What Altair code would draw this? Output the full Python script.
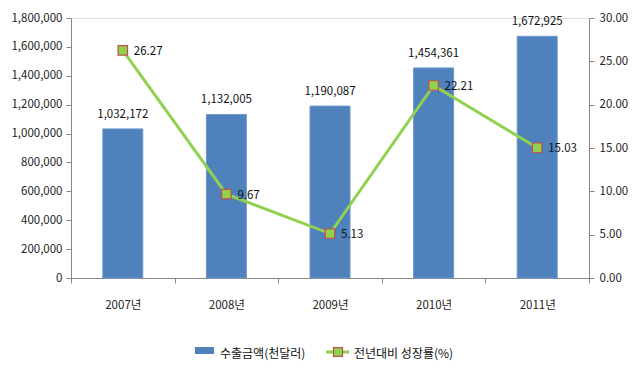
import altair as alt
import pandas as pd

years = ["2007년", "2008년", "2009년", "2010년", "2011년"]
exports = [1032172, 1132005, 1190087, 1454361, 1672925]
growth = [26.27, 9.67, 5.13, 22.21, 15.03]

bar_name = "수출금액(천달러)"
line_name = "전년대비 성장률(%)"

FONT = "Noto Sans CJK KR"
BLUE = "#4F81BD"
GREEN = "#92D050"
RED = "#C0504D"
AXIS_GRAY = "#868686"

df = pd.DataFrame({"year": years, "exports": exports, "growth": growth})
df["exp_label"] = [f"{v:,}" for v in exports]
df["gr_label"] = [f"{v:.2f}" for v in growth]

x = alt.X("year:N", sort=years, title=None,
          scale=alt.Scale(paddingInner=0.0, paddingOuter=0.0),
          axis=alt.Axis(labelAngle=0, tickBand="extent", labelPadding=16,
                        tickSize=5, domainColor=AXIS_GRAY, tickColor=AXIS_GRAY,
                        labelFont=FONT, labelFontSize=11.5, labelColor="#222"))

y_left = alt.Y("exports:Q", title=None,
               scale=alt.Scale(domain=[0, 1800000], nice=False),
               axis=alt.Axis(values=list(range(0, 1800001, 200000)), format=",.0f",
                             grid=False, tickSize=5, labelPadding=4,
                             domainColor=AXIS_GRAY, tickColor=AXIS_GRAY,
                             labelFont=FONT, labelFontSize=11.5, labelColor="#222"))

y_right = alt.Y("growth:Q", title=None,
                scale=alt.Scale(domain=[0, 30], nice=False),
                axis=alt.Axis(orient="right", values=[0, 5, 10, 15, 20, 25, 30], format=".2f",
                              grid=False, tickSize=5, labelPadding=5,
                              domainColor=AXIS_GRAY, tickColor=AXIS_GRAY,
                              labelFont=FONT, labelFontSize=11.5, labelColor="#222"))

base = alt.Chart(df)

bars = base.mark_bar(color=BLUE, size=40, stroke="#6F97C9", strokeWidth=1).encode(x=x, y=y_left)
bar_text = base.mark_text(font=FONT, fontSize=11.5, color="#111", baseline="middle", dy=-14).encode(
    x=x, y=y_left, text="exp_label:N")

left = alt.layer(bars, bar_text)

line = base.mark_line(color=GREEN, strokeWidth=3).encode(x=x, y=y_right)
pts = base.mark_point(shape="square", size=90, filled=True, fill=GREEN, stroke=RED,
                      strokeWidth=1.2, opacity=1).encode(x=x, y=y_right)
line_text = base.mark_text(font=FONT, fontSize=11.5, color="#111", align="left",
                           baseline="middle", dx=11, dy=1.5).encode(
    x=x, y=y_right, text="gr_label:N")

right = alt.layer(line, pts, line_text)

# manual legend
one = pd.DataFrame({"a": [0]})
lg = alt.Chart(one)
leg_rect = lg.mark_rect(color=BLUE).encode(
    x=alt.value(124), x2=alt.value(143), y=alt.value(329), y2=alt.value(336))
leg_text1 = lg.mark_text(font=FONT, fontSize=12, color="#111", align="left",
                         baseline="middle").encode(
    x=alt.value(149), y=alt.value(336), text=alt.value(bar_name))
leg_line = lg.mark_rule(color=GREEN, strokeWidth=3).encode(
    x=alt.value(255), x2=alt.value(278), y=alt.value(334))
leg_pt = lg.mark_point(shape="square", size=80, filled=True, fill=GREEN, stroke=RED,
                       strokeWidth=1.2, opacity=1).encode(x=alt.value(267), y=alt.value(334))
leg_text2 = lg.mark_text(font=FONT, fontSize=12, color="#111", align="left",
                         baseline="middle").encode(
    x=alt.value(283), y=alt.value(336), text=alt.value(line_name))
legend = alt.layer(leg_rect, leg_text1, leg_line, leg_pt, leg_text2)

chart = alt.layer(left, right, legend).resolve_scale(y="independent").properties(
    width=518, height=260,
    padding={"left": 63, "top": 10, "right": 46, "bottom": 100},
    autosize=alt.AutoSizeParams(type="none"),
).configure_view(stroke=None).configure(background="white")

chart.save("out.html", embed_options={"renderer": "svg", "actions": False})
